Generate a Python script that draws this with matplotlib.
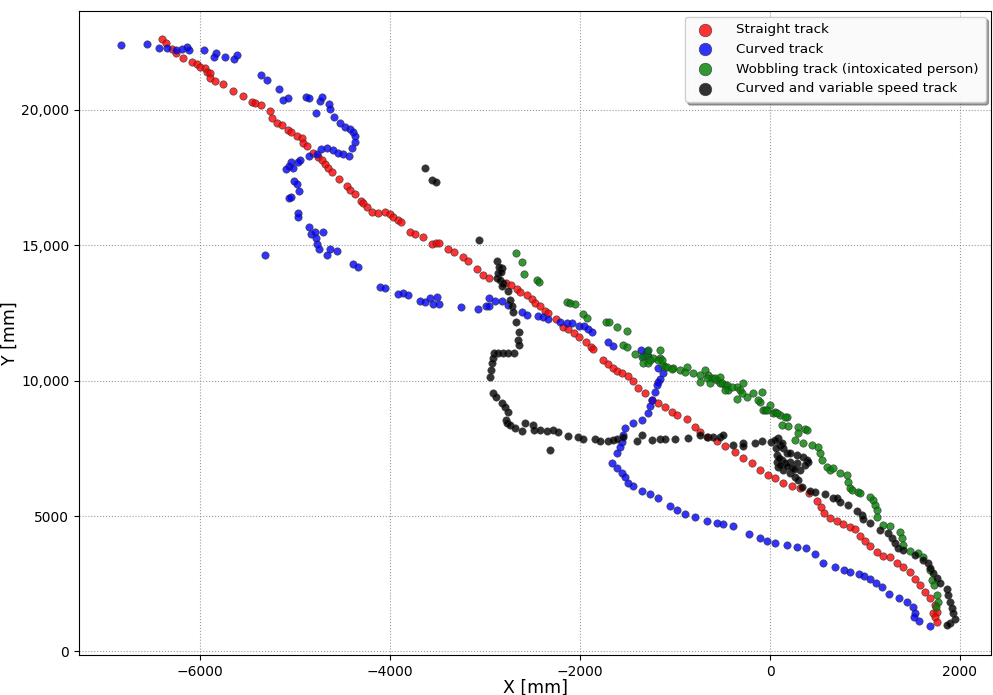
import matplotlib
matplotlib.use("Agg")
import matplotlib.pyplot as plt
from matplotlib.ticker import FuncFormatter

# Straight track [mm]
straight_x = [-6399, -6363, -6300, -6255, -6184, -6090, -6037, -6002, -5949, -5932,
              -5897, -5897, -5844, -5763, -5658, -5553, -5458, -5423, -5363, -5265,
              -5247, -5195, -5142, -5072, -5047, -4984, -4931, -4914, -4872, -4809,
              -4756, -4721, -4686, -4651, -4615, -4535, -4451, -4423, -4370, -4307,
              -4283, -4247, -4194, -4125, -4054, -4001, -3967, -3914, -3889, -3791,
              -3738, -3657, -3562, -3517, -3482, -3387, -3327, -3236, -3177, -3082,
              -3019, -2959, -2780, -2727, -2667, -2633, -2562, -2509, -2475, -2422,
              -2369, -2335, -2253, -2177, -2124, -2064, -2011, -1941, -1888, -1861,
              -1755, -1703, -1650, -1608, -1555, -1492, -1439, -1387, -1316, -1246,
              -1176, -1106, -1035, -982, -877, -790, -737, -650, -561, -474,
              -369, -281, -193, -105, -18, 53, 140, 228, 316, 414,
              492, 534, 569, 632, 702, 772, 842, 895, 948, 1000,
              1053, 1124, 1193, 1264, 1334, 1404, 1474, 1527, 1580, 1632,
              1685, 1737, 1720, 1755, 1737, 1762]
straight_y = [22590, 22465, 22221, 22074, 21889, 21764, 21679, 21579, 21520, 21395,
              21336, 21151, 21051, 20941, 20682, 20498, 20288, 20229, 20155, 19956,
              19675, 19491, 19428, 19243, 19181, 19022, 18937, 18753, 18653, 18406,
              18258, 18136, 17989, 17830, 17705, 17424, 17188, 17029, 16871, 16635,
              16539, 16413, 16229, 16192, 16206, 16144, 16044, 15922, 15860, 15468,
              15406, 15284, 15037, 15074, 15074, 14841, 14742, 14568, 14409, 14103,
              13893, 13771, 13587, 13524, 13365, 13277, 13155, 13007, 12871, 12760,
              12576, 12480, 12258, 11985, 11889, 11742, 11616, 11432, 11247, 11151,
              10756, 10609, 10450, 10362, 10288, 10166, 9993, 9712, 9528, 9280,
              9181, 9011, 8849, 8727, 8568, 8295, 8111, 7926, 7779, 7583,
              7362, 7159, 6974, 6697, 6531, 6391, 6225, 6125, 6022, 5838,
              5553, 5321, 5122, 4937, 4827, 4705, 4605, 4509, 4262, 4089,
              3893, 3683, 3524, 3476, 3255, 3129, 2945, 2664, 2454, 2207,
              1963, 1716, 1410, 1469, 1284, 1100]

# Curved track [mm]
curved_x = [-6834, -6563, -6431, -6353, -6255, -6195, -6136, -6115, -5957, -5837,
            -5855, -5739, -5616, -5641, -5363, -5300, -5170, -5131, -5079, -4886,
            -4851, -4739, -4721, -4644, -4633, -4781, -4588, -4528, -4475, -4423,
            -4388, -4370, -4370, -4405, -4430, -4493, -4546, -4605, -4668, -4731,
            -4773, -4851, -4949, -4967, -5047, -5062, -5097, -5026, -5012, -4984,
            -4960, -5047, -5062, -4973, -4967, -4854, -4836, -4791, -4710, -4781,
            -4773, -4746, -4633, -4556, -4668, -5318, -4394, -4342, -4107, -4054,
            -3914, -3868, -3809, -3686, -3633, -3580, -3510, -3546, -3482, -3257,
            -3072, -2991, -2956, -2956, -2896, -2825, -2756, -2615, -2562, -2440,
            -2387, -2335, -2211, -2141, -2088, -2011, -1959, -1913, -1877, -1703,
            -1650, -1358, -1298, -1334, -1282, -1176, -1124, -1158, -1176, -1193,
            -1211, -1246, -1264, -1282, -1351, -1439, -1527, -1545, -1562, -1580,
            -1614, -1667, -1614, -1562, -1527, -1492, -1439, -1351, -1264, -1176,
            -1053, -982, -895, -790, -667, -561, -492, -393, -218, -105,
            -35, 53, 182, 287, 379, 474, 561, 684, 782, 842,
            940, 993, 1053, 1116, 1176, 1256, 1362, 1446, 1503, 1527,
            1516, 1572, 1685]
curved_y = [22369, 22406, 22280, 22258, 22195, 22221, 22317, 22195, 22195, 22074,
            21926, 21948, 22011, 21863, 21273, 21088, 20756, 20350, 20413, 20450,
            20413, 20313, 20450, 20192, 20018, 19882, 19734, 19491, 19365, 19280,
            19181, 19033, 18789, 18568, 18284, 18358, 18384, 18505, 18568, 18542,
            18358, 18295, 18136, 18074, 18074, 17915, 17793, 17830, 17361, 17251,
            16992, 16760, 16723, 16170, 16044, 15675, 15395, 15468, 15491, 15247,
            15037, 14841, 14841, 14778, 14631, 14631, 14299, 14177, 13461, 13402,
            13181, 13218, 13155, 12945, 12908, 13033, 13070, 12812, 12823, 12723,
            12638, 12749, 12760, 13055, 12945, 12945, 12786, 12539, 12417, 12380,
            12332, 12258, 12170, 12111, 12111, 12022, 12022, 11889, 11778, 11409,
            11273, 11125, 11100, 10904, 10904, 10450, 10266, 10044, 9956, 9834,
            9587, 9280, 9059, 8790, 8542, 8421, 8236, 7989, 7742, 7557,
            7314, 6967, 6760, 6576, 6450, 6229, 6107, 5934, 5812, 5653,
            5369, 5221, 5074, 4952, 4827, 4753, 4705, 4631, 4336, 4177,
            4089, 4015, 3930, 3845, 3808, 3598, 3277, 3129, 3007, 2945,
            2860, 2786, 2664, 2539, 2391, 2122, 1963, 1838, 1653, 1432,
            1262, 1137, 952]

# Wobbling track (intoxicated person) [mm]
wobble_x = [-2675, -2608, -2590, -2457, -2432, -2141, -2106, -2053, -1972, -1930,
            -1727, -1692, -1614, -1503, -1545, -1509, -1422, -1351, -1334, -1298,
            -1282, -1235, -1158, -1158, -1176, -1124, -1106, -1018, -947, -895,
            -877, -808, -737, -684, -650, -614, -561, -527, -474, -439,
            -351, -281, -316, -351, -245, -176, -87, -105, -71, -53,
            0, 35, 53, 105, 176, 123, 193, 298, 369, 386,
            298, 263, 351, 439, 509, 527, 544, 597, 632, 667,
            737, 808, 824, 842, 860, 930, 948, 1053, 1088, 1106,
            1124, 1124, 1193, 1264, 1369, 1387, 1404, 1474, 1562, 1614,
            1685, 1703, 1727, 1762, 1772, 1748,
            -1264, -1282, -1141, -1088, -1035, -737, -667, -632, -579, -527,
            -509, -456, -474, -403, -298, -123, -35, 71, 158]
wobble_y = [14694, 14384, 13930, 13708, 13646, 12908, 12871, 12823, 12443, 12295,
            12147, 12147, 11963, 11826, 11310, 11225, 10978, 10878, 10657, 10941,
            10635, 10819, 11125, 10819, 10756, 10572, 10509, 10450, 10387, 10325,
            10509, 10266, 10203, 10387, 10203, 10081, 10018, 9897, 9834, 9649,
            9771, 9897, 9649, 9306, 9402, 9528, 9587, 9218, 8911, 8911,
            9096, 8790, 8849, 8727, 8664, 8358, 8321, 8295, 8199, 8173,
            8052, 7804, 7683, 7620, 7557, 7314, 7066, 6819, 6697, 6760,
            6576, 6513, 6266, 6022, 5959, 5897, 5860, 5712, 5590, 5406,
            5221, 4974, 4668, 4631, 4421, 4177, 3930, 3720, 3624, 3476,
            3007, 2638, 2454, 2085, 1838, 1653,
            10756, 11125, 10756, 10509, 10413, 9956, 10081, 9897, 10081, 10140,
            9897, 9834, 9649, 9771, 9528, 9280, 8911, 8790, 8664]

# Curved and variable speed track [mm]
variable_x = [-3633, -3556, -3517, -3061, -2878, -2825, -2861, -2850, -2830, -2870,
              -2843, -2808, -2820, -2756, -2738, -2720, -2703, -2675, -2640, -2650,
              -2640, -2696, -2756, -2808, -2861, -2906, -2914, -2931, -2941, -2948,
              -2920, -2885, -2819, -2790, -2756, -2780, -2773, -2738, -2685, -2608,
              -2580, -2499, -2485, -2422, -2351, -2282, -2229, -2317, -2124, -2019,
              -1972, -1843, -1790, -1703, -1650, -1614, -1545, -1404, -1351, -1246,
              -1158, -1106, -1000, -860, -737, -667, -597, -527, -492, -386,
              -281, -281, -158, -87, 7, 87, 105, 123, 140, 176,
              211, 281, 351, 386, 403, 369, 281, 211, 123, 71,
              87, 140, 211, 263, 298, 334, 421, 474, 579, 667,
              702, 737, 824, 913, 966, 983, 1053, 1158, 1246, 1281,
              1316, 1351, 1404, 1527, 1614, 1667, 1685, 1720, 1755, 1790,
              1861, 1878, 1895, 1913, 1930, 1948, 1895, 1861,
              53, 74, 95, 158, 232, 316, 60, 110, 180, 250]
variable_y = [17830, 17398, 17313, 15184, 14409, 14140, 13956, 14200, 14000, 13800,
              13708, 13587, 13500, 13314, 12970, 12749, 12539, 12170, 11801, 11494,
              11310, 11004, 11026, 11026, 11026, 11026, 10819, 10635, 10387, 10140,
              9528, 9402, 9159, 9033, 8849, 8542, 8421, 8358, 8236, 8148,
              8421, 8358, 8173, 8173, 8148, 8173, 8111, 7435, 7952, 7904,
              7830, 7830, 7779, 7779, 7804, 7830, 7926, 7779, 7989, 7804,
              7830, 7830, 7830, 7867, 7989, 7926, 7904, 7926, 7989, 7620,
              7705, 7583, 7705, 7779, 7731, 7867, 7620, 7683, 7498, 7314,
              7314, 7251, 7166, 7066, 7004, 6882, 6945, 7004, 7066, 7004,
              6819, 6697, 6576, 6450, 6328, 6081, 5934, 5897, 5812, 5653,
              5653, 5528, 5406, 5196, 5037, 4878, 4731, 4483, 4362, 4177,
              3993, 3808, 3745, 3561, 3376, 3255, 3070, 2886, 2701, 2539,
              2295, 2085, 1838, 1594, 1410, 1188, 1063, 978,
              7800, 7260, 7150, 6970, 6790, 6700, 7500, 6900, 6850, 6750]

tracks = [
    (straight_x, straight_y, 'red', 'Straight track'),
    (curved_x, curved_y, 'blue', 'Curved track'),
    (wobble_x, wobble_y, 'green', 'Wobbling track (intoxicated person)'),
    (variable_x, variable_y, 'black', 'Curved and variable speed track'),
]

fig = plt.figure(figsize=(9.93, 6.95), dpi=100)
ax = fig.add_axes([0.0796, 0.0576, 0.9184, 0.9264])

for xs, ys, col, lab in tracks:
    ax.scatter(xs, ys, s=28, c=col, alpha=0.8, edgecolors='#333333',
               linewidths=0.5, label=lab, zorder=3)

ax.set_xlim(-7276, 2327)
ax.set_ylim(-129, 23634)
ax.set_xticks([-6000, -4000, -2000, 0, 2000])
ax.set_yticks([0, 5000, 10000, 15000, 20000])


def fmt(v, pos):
    s = f"{abs(v):,.0f}" if abs(v) >= 10000 else f"{abs(v):.0f}"
    return ('\u2212' + s) if v < 0 else s


ax.xaxis.set_major_formatter(FuncFormatter(fmt))
ax.yaxis.set_major_formatter(FuncFormatter(fmt))

ax.grid(True, color='gray', linestyle=':', linewidth=0.8, alpha=0.8)
ax.set_xlabel('X [mm]', fontsize=12.5, labelpad=0)
ax.set_ylabel('Y [mm]', fontsize=12.5, labelpad=2)

ax.legend(loc='upper right', fontsize=9.7, markerscale=1.7, shadow=True,
          framealpha=0.95, handletextpad=1.3, borderpad=0.5, labelspacing=0.5,
          borderaxespad=0.4)

fig.savefig('out.png', dpi=100)
